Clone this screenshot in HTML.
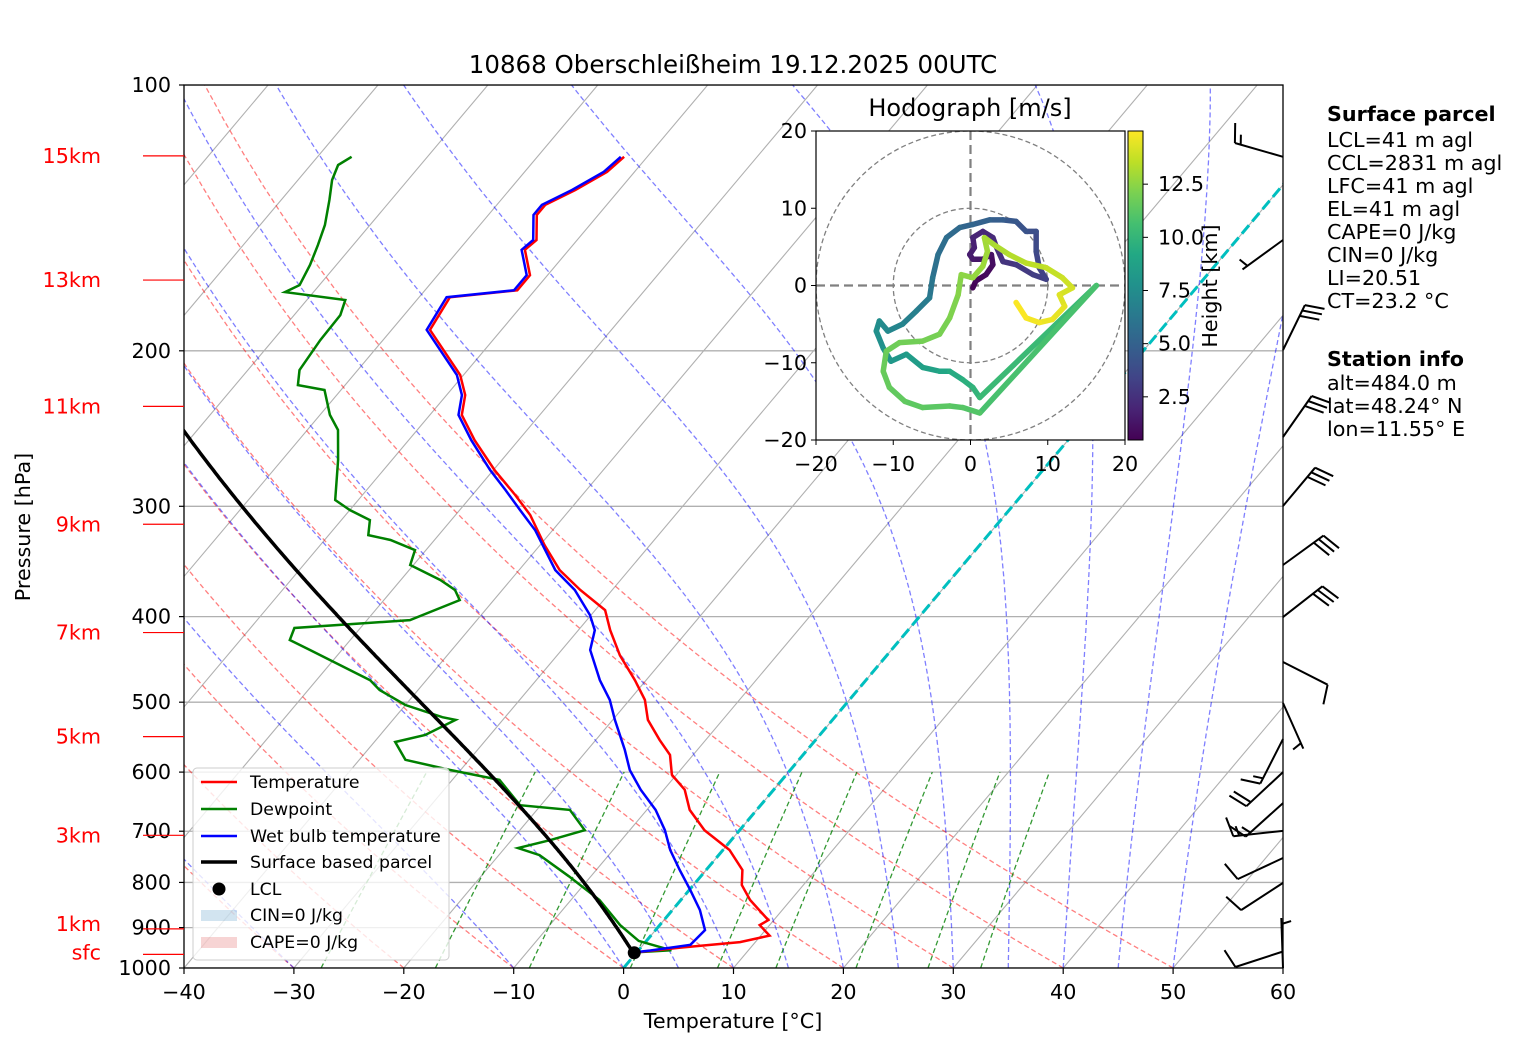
<!DOCTYPE html>
<html><head><meta charset="utf-8"><style>
body{margin:0;background:#fff}
svg{display:block;font-family:"DejaVu Sans","Liberation Sans",sans-serif}
</style></head><body>
<svg id="chart" width="1517" height="1054" viewBox="0 0 1517 1054" xmlns="http://www.w3.org/2000/svg">
<defs>
<clipPath id="plotclip"><rect x="184" y="85" width="1099" height="883"/></clipPath>
<clipPath id="hclip"><rect x="816" y="131" width="309" height="309"/></clipPath>
<linearGradient id="viridis" x1="0" y1="1" x2="0" y2="0">
<stop offset="0" stop-color="#440154"/><stop offset="0.1" stop-color="#482475"/><stop offset="0.2" stop-color="#414487"/><stop offset="0.3" stop-color="#355f8d"/><stop offset="0.4" stop-color="#2a788e"/><stop offset="0.5" stop-color="#21918c"/><stop offset="0.6" stop-color="#22a884"/><stop offset="0.7" stop-color="#44bf70"/><stop offset="0.8" stop-color="#7ad151"/><stop offset="0.9" stop-color="#bddf26"/><stop offset="1" stop-color="#fde725"/>
</linearGradient>
</defs>
<text x="733" y="73" font-size="24.5" text-anchor="middle">10868 Oberschleißheim 19.12.2025 00UTC</text>
<g id="bg" clip-path="url(#plotclip)"></g>
<g id="series" clip-path="url(#plotclip)"></g>
<rect x="184" y="85" width="1099" height="883" fill="none" stroke="#000" stroke-width="1.3"/>
<g id="axes"></g>
<g id="barbs"></g>
<g font-size="17.3">
<rect x="193" y="768" width="256" height="192" rx="4" fill="#fff" fill-opacity="0.8" stroke="#ccc"/>
<line x1="201" y1="782" x2="237" y2="782" stroke="red" stroke-width="2.5"/>
<text x="250" y="788">Temperature</text>
<line x1="201" y1="809" x2="237" y2="809" stroke="green" stroke-width="2.5"/>
<text x="250" y="815">Dewpoint</text>
<line x1="201" y1="836" x2="237" y2="836" stroke="blue" stroke-width="2.5"/>
<text x="250" y="842">Wet bulb temperature</text>
<line x1="201" y1="862" x2="237" y2="862" stroke="#000" stroke-width="3.5"/>
<text x="250" y="868">Surface based parcel</text>
<circle cx="219" cy="889" r="6.5" fill="#000"/>
<text x="250" y="895">LCL</text>
<rect x="201" y="910" width="36" height="11" fill="#1f77b4" fill-opacity="0.2"/>
<text x="250" y="921">CIN=0 J/kg</text>
<rect x="201" y="937" width="36" height="11" fill="#d62728" fill-opacity="0.2"/>
<text x="250" y="948">CAPE=0 J/kg</text>
</g>
<g id="hodo"></g>
<g font-size="20.7">
<text x="1327" y="121" font-weight="bold">Surface parcel</text>
<text x="1327" y="147">LCL=41 m agl</text>
<text x="1327" y="170">CCL=2831 m agl</text>
<text x="1327" y="193">LFC=41 m agl</text>
<text x="1327" y="216">EL=41 m agl</text>
<text x="1327" y="239">CAPE=0 J/kg</text>
<text x="1327" y="262">CIN=0 J/kg</text>
<text x="1327" y="285">LI=20.51</text>
<text x="1327" y="308">CT=23.2 °C</text>
<text x="1327" y="366" font-weight="bold">Station info</text>
<text x="1327" y="390">alt=484.0 m</text>
<text x="1327" y="413">lat=48.24° N</text>
<text x="1327" y="436">lon=11.55° E</text>
</g>
</svg>
<script>
// ---- data ----
const redP=[120.6,125.4,131.5,136.7,140.3,149.8,153.7,164.2,170.8,173.9,189.4,213,224.5,236.4,252.5,272.9,291.3,306.9,331.9,354.3,373.2,393.3,414.4,442.4,472.3,497,523.6,551.6,573.7,604.3,628.2,662.2,698.1,735.2,774.5,805.4,837.6,882.6,894.2,918.9,934.6,948.1,961];
const redT=[-62.1,-62.5,-64.0,-65.6,-65.6,-63.7,-64.0,-61.6,-61.6,-67.2,-66.5,-60.3,-58.3,-57.1,-54.0,-49.9,-46.1,-43.2,-39.6,-36.3,-32.9,-29.1,-27.1,-24.3,-21.0,-18.6,-16.8,-14.2,-12.1,-10.4,-8.1,-6.1,-3.2,0.6,3.3,4.4,6.3,9.5,9.1,10.8,8.6,3.6,-0.3];
const wbP=[120.6,125.4,131.5,136.7,140.3,149.8,153.7,164.2,170.8,173.9,189.4,213,224.5,236.4,252.5,272.9,287.4,303,319.2,354.3,373.2,398.4,414.4,436.4,472.3,497,523.6,566.3,596.9,628.2,662.2,698.1,735.2,774.5,816.1,859.6,905.8,941.3,955.4,961];
const wbT=[-62.4,-62.8,-64.3,-65.9,-65.9,-64,-64.3,-61.9,-61.9,-67.5,-66.8,-60.6,-58.6,-57.4,-54.3,-50.3,-47.4,-44.5,-41.6,-36.7,-33.4,-30.1,-28.5,-27.4,-24.2,-21.8,-19.8,-16.6,-14.6,-12.1,-9.2,-6.8,-4.8,-2.4,0.1,2.5,4.5,4.3,1.1,-0.5];
const tdP=[120.6,123.2,128.1,135,144.1,151.8,159.9,168.5,171.6,175.2,182.2,194.5,210.3,218.7,221.5,236.4,245.9,265.9,295.1,302.9,311,323.4,327.6,336.3,349.6,363.6,373.2,383.1,403.6,412.1,425.2,436.4,453.9,472.3,484.4,503.7,520,523.6,544.7,554.7,581.1,596.5,612.3,654,662.2,698.1,716.6,731.4,745,787.3,837.6,894.2,931.8,955,961];
const tdT=[-86.9,-87.5,-86.9,-85.6,-84.1,-83.2,-82.4,-81.8,-82.6,-76.5,-75.8,-75.7,-75.3,-74.3,-71.5,-69.1,-67.2,-64.9,-62.1,-60,-57.4,-56.4,-54,-51,-50.3,-46.4,-44.3,-43.1,-46.1,-56,-55.5,-52.9,-49,-45.1,-43.5,-40,-35.7,-34.3,-35.9,-38.1,-35.8,-31,-25.7,-21.9,-17,-14.1,-16.5,-18.8,-16.3,-12,-7.4,-3.6,-0.7,3.0,-0.6];
const parcelStartP=961, parcelStartT=-0.3;
const xTicks=[-40,-30,-20,-10,0,10,20,30,40,50,60];
const pTicks=[100,200,300,400,500,600,700,800,900,1000];
const heightLabels=["15km","13km","11km","9km","7km","5km","3km","1km","sfc"];
const heightLabelP=[120.3,166.3,231.2,314.4,417,547,707.5,903,965];
const dryT0=[-40,-30,-20,-10,0,10,20,30,40,50];
const moistT0=[-30,-10,0,5,10,15,20,25,30,35,40,45,50];
const mixW=[0.0004,0.001,0.002,0.004,0.007,0.01,0.016,0.024,0.032];
const barbP=[120.6,149.8,199.6,250.4,299.8,349.6,400.5,450.3,501,550.5,600,650.5,699.5,750.6,801,958,1000];
const barbDir=[286,234,26,35,40,54,52,117,156,207,227,228,264,245,237,252,358];
const barbSpd=[15,5,30,30,30,30,30,10,5,15,20,15,15,10,10,10,5];
const hodoU=[0.3,0.7,2.0,2.9,2.7,1.6,0.3,-0.1,0.5,0.3,1.6,2.9,3.3,4.2,5.9, 8.1,9.8,8.9,8.5,8.5,7.2,5.9,4.2,2.5, 0.3,-1.4,-3.1,-4.2,-4.9,-5.3,-7.0,-8.8,-10.7,-11.8,-12.2,-11.3,-10.3, -8.3,-6.2,-4.0,-2.7,-1.0,0.3,1.2, 16.3,1.2, -1.0,-2.7,-6.2,-8.5,-10.5,-11.3,-10.9,-9.2,-6.2,-4.0,-2.7,-1.6,-1.2, 0.3,1.6,2.2,1.8, 3.3,5.0,7.2,9.8,11.9,13.2, 11.5,12.2,10.6,8.9,7.2,5.9];
const hodoV=[-0.3,0.6,1.4,2.7,4.0,3.4,3.4,4.0,4.9,6.2,7.0,6.2,5.1,3.1,2.7, 1.4,0.8,2.3,4.4,7.0,7.0,8.3,8.5,8.5, 7.9,7.5,6.2,4.0,1.0,-1.6,-3.3,-5.0,-5.9,-4.6,-5.9,-8.1,-9.8, -8.9,-10.6,-11.1,-11.1,-12.2,-13.2,-14.5, 0,-16.5, -15.8,-15.6,-15.8,-15.0,-13.2,-11.1,-8.5,-7.4,-7.2,-6.3,-4.2,-1.2,1.4, 1.0,2.5,4.4,6.2, 5.1,4.0,2.9,2.3,1.0,-0.3, -1.2,-2.7,-4.4,-4.8,-4.2,-2.2];
const hodoH=[0.5,0.65,0.8,0.95,1.1,1.25,1.4,1.55,1.7,1.85,2.0,2.15,2.3,2.5,2.8, 3.0,3.2,3.4,3.6,3.8,4.1,4.3,4.6,4.9, 5.1,5.3,5.6,5.8,6.0,6.3,6.6,6.9,7.2,7.4,7.6,7.8,8.0, 8.3,8.6,8.9,9.2,9.5,9.8,10.0, 10.5,11.0, 11.1,11.2,11.3,11.4,11.5,11.6,11.7,11.8,11.9,12.0,12.1,12.3,12.4, 12.6,12.75,12.9,13.0, 13.15,13.3,13.45,13.6,13.8,14.0, 14.2,14.4,14.55,14.7,14.85,15.0];
const cbTicks=[2.5,5.0,7.5,10.0,12.5];
const hodoTicks=[-20,-10,0,10,20];

// ---- axis functions ----
const NS="http://www.w3.org/2000/svg";
function yP(p){return 85+Math.log10(p/100)*883;}
function xT(T,p){return 184+(T+40)*10.99+(968-yP(p))*0.842;}
function mk(tag,attrs,parent){const e=document.createElementNS(NS,tag);for(const k in attrs)e.setAttribute(k,attrs[k]);parent.appendChild(e);return e;}
function pathFrom(ps,ts){return ps.map((p,i)=>(i?'L':'M')+xT(ts[i],p).toFixed(1)+','+yP(p).toFixed(1)).join('');}
const bg=document.getElementById('bg'), series=document.getElementById('series'), axes=document.getElementById('axes');
const Rd=287.04,Cpd=1005.7,Lv=2.501e6,eps=0.622;
function es(Tc){return 6.112*Math.exp(17.67*Tc/(Tc+243.5));}
function dTdp(p,T){const e=es(T-273.15);const rs=eps*e/(p-e);return (Rd*T+Lv*rs)/(Cpd+Lv*Lv*rs*eps/(Rd*T*T))/p;}
function moist(p0,T0){let p=p0,T=T0+273.15;const P=[p],TT=[T0];while(p>100){const dp=-Math.min(2,p-100);const k1=dTdp(p,T);const k2=dTdp(p+dp/2,T+k1*dp/2);T+=k2*dp;p+=dp;P.push(p);TT.push(T-273.15);}return [P,TT];}

pTicks.forEach(p=>{
  const l=mk('line',{x1:184,x2:1283,y1:yP(p),y2:yP(p),stroke:'#b0b0b0','stroke-width':1.3},bg);
  
  
});
for(let T=-160;T<=60;T+=10){
  const l=mk('line',{x1:xT(T,1000),y1:yP(1000),x2:xT(T,100),y2:yP(100),stroke:'#b0b0b0','stroke-width':1.1},bg);
  
  
}
dryT0.forEach(t0=>{
  const P=[],T=[];for(let p=1000;p>=100;p-=10){P.push(p);T.push((t0+273.15)*Math.pow(p/1000,0.2857)-273.15);}
  const e=mk('path',{d:pathFrom(P,T),fill:'none',stroke:'#ff0000','stroke-opacity':0.5,'stroke-width':1.3,'stroke-dasharray':'5,3'},bg);
  
  
});
moistT0.forEach(t0=>{
  const r=moist(1000,t0);
  const e=mk('path',{d:pathFrom(r[0],r[1]),fill:'none',stroke:'#0000ff','stroke-opacity':0.5,'stroke-width':1.3,'stroke-dasharray':'5,3'},bg);
  
  
});
mixW.forEach(w=>{
  const P=[],T=[];for(let p=1000;p>=600;p-=10){const e=w*p/(eps+w);const l=Math.log(e/6.112);P.push(p);T.push(243.5*l/(17.67-l));}
  const e=mk('path',{d:pathFrom(P,T),fill:'none',stroke:'#008000','stroke-opacity':0.8,'stroke-width':1.3,'stroke-dasharray':'5,3'},bg);
  
  
});
{const e=mk('line',{x1:xT(0,1000),y1:yP(1000),x2:xT(0,100),y2:yP(100),stroke:'#00bfbf','stroke-width':3,'stroke-dasharray':'11,5'},bg);

}

{const e=mk('path',{d:pathFrom(tdP,tdT),fill:'none',stroke:'green','stroke-width':2.5},series);

}
{const e=mk('path',{d:pathFrom(redP,redT),fill:'none',stroke:'red','stroke-width':2.5},series);

}
{const e=mk('path',{d:pathFrom(wbP,wbT),fill:'none',stroke:'blue','stroke-width':2.5},series);

}
{const r=moist(parcelStartP,parcelStartT);
const e=mk('path',{d:pathFrom(r[0],r[1]),fill:'none',stroke:'#000','stroke-width':3.5},series);


const c=mk('circle',{cx:xT(parcelStartT+0.1,parcelStartP),cy:yP(parcelStartP),r:6.5,fill:'#000'},series);

}

pTicks.forEach(p=>{
  mk('line',{x1:179,x2:184,y1:yP(p),y2:yP(p),stroke:'#000','stroke-width':1.2},axes);
  const t=mk('text',{x:171,y:yP(p)+7,'font-size':20.7,'text-anchor':'end'},axes);t.textContent=p;
  
  
});
xTicks.forEach(T=>{
  const x=184+(T+40)*10.99;
  mk('line',{x1:x,x2:x,y1:968,y2:974,stroke:'#000','stroke-width':1.2},axes);
  const t=mk('text',{x:x,y:999,'font-size':20.7,'text-anchor':'middle'},axes);t.textContent=(T<0?'\u2212'+(-T):T);
  
  
});
heightLabels.forEach((s,i)=>{
  const y=yP(heightLabelP[i]);
  mk('line',{x1:143,x2:184,y1:y,y2:y,stroke:'red','stroke-width':1.2},axes);
  const t=mk('text',{x:101,y:y+(i===7?2:(i===8?5:7)),'font-size':20.7,fill:'red','text-anchor':'end'},axes);t.textContent=s;
  
  
});
{const t=mk('text',{x:733,y:1028,'font-size':20.7,'text-anchor':'middle'},axes);t.textContent='Temperature [°C]';


const t2=mk('text',{x:0,y:0,'font-size':20.7,'text-anchor':'middle',transform:'translate(30,527) rotate(-90)'},axes);t2.textContent='Pressure [hPa]';

}

const barbs=document.getElementById('barbs');
barbP.forEach((p,i)=>{
  const bx=1283,by=yP(p),d=barbDir[i]*Math.PI/180,L=50;
  const ux=Math.sin(d),uy=-Math.cos(d);
  const tx=bx+ux*L,ty=by+uy*L;
  const th=75*Math.PI/180;
  const rx=ux*Math.cos(th)-uy*Math.sin(th),ry=ux*Math.sin(th)+uy*Math.cos(th);
  const s=barbSpd[i],full=Math.floor(s/10),half=(s%10)>=5?1:0;
  let dpath='M'+bx+','+by.toFixed(1)+'L'+tx.toFixed(1)+','+ty.toFixed(1);
  let off=0;
  if(full===0&&half) off=6;
  for(let k=0;k<full;k++){const px=tx-ux*off,py=ty-uy*off;dpath+='M'+px.toFixed(1)+','+py.toFixed(1)+'l'+(rx*20).toFixed(1)+','+(ry*20).toFixed(1);off+=6;}
  if(half){const px=tx-ux*off,py=ty-uy*off;dpath+='M'+px.toFixed(1)+','+py.toFixed(1)+'l'+(rx*10).toFixed(1)+','+(ry*10).toFixed(1);}
  const e=mk('path',{d:dpath,fill:'none',stroke:'#000','stroke-width':2},barbs);
  
  
});

const hodo=document.getElementById('hodo');
const hx0=816,hy0=131,hw=309,hh=309;
function hX(u){return hx0+(u+20)/40*hw;}
function hY(v){return hy0+(20-v)/40*hh;}
{const r=mk('rect',{x:hx0,y:hy0,width:hw,height:hh,fill:'#fff',stroke:'none'},hodo);

}
const hg=mk('g',{'clip-path':'url(#hclip)'},hodo);
[10,20].forEach(r=>{const c=mk('circle',{cx:hX(0),cy:hY(0),r:r/40*hw,fill:'none',stroke:'#808080','stroke-width':1.3,'stroke-dasharray':'5,3'},hg);

});
mk('line',{x1:hX(0),x2:hX(0),y1:hy0,y2:hy0+hh,stroke:'#808080','stroke-width':2.2,'stroke-dasharray':'9,5'},hg);
mk('line',{x1:hx0,x2:hx0+hw,y1:hY(0),y2:hY(0),stroke:'#808080','stroke-width':2.2,'stroke-dasharray':'9,5'},hg);
const stops=[[0,'#440154'],[0.1,'#482475'],[0.2,'#414487'],[0.3,'#355f8d'],[0.4,'#2a788e'],[0.5,'#21918c'],[0.6,'#22a884'],[0.7,'#44bf70'],[0.8,'#7ad151'],[0.9,'#bddf26'],[1,'#fde725']];
function hex(h){return [1,3,5].map(i=>parseInt(h.substr(i,2),16));}
function vir(t){t=Math.max(0,Math.min(1,t));for(let i=1;i<stops.length;i++){if(t<=stops[i][0]){const a=stops[i-1],b=stops[i];const f=(t-a[0])/(b[0]-a[0]);const ca=hex(a[1]),cb=hex(b[1]);return 'rgb('+ca.map((c,k)=>Math.round(c+(cb[k]-c)*f)).join(',')+')';}}return stops[10][1];}
const hMin=0.47,hMax=15;
for(let i=1;i<hodoU.length;i++){
  const hm=(hodoH[i]+hodoH[i-1])/2;
  const e=mk('line',{x1:hX(hodoU[i-1]),y1:hY(hodoV[i-1]),x2:hX(hodoU[i]),y2:hY(hodoV[i]),stroke:vir((hm-hMin)/(hMax-hMin)),'stroke-width':5.5,'stroke-linecap':'round'},hg);
  
  
}
mk('rect',{x:hx0,y:hy0,width:hw,height:hh,fill:'none',stroke:'#000','stroke-width':1.2},hodo);
hodoTicks.forEach(v=>{
  const lab=(v<0?'\u2212'+(-v):''+v);
  mk('line',{x1:hX(v),x2:hX(v),y1:hy0+hh,y2:hy0+hh+5,stroke:'#000'},hodo);
  const t=mk('text',{x:hX(v),y:471,'font-size':20.7,'text-anchor':'middle'},hodo);t.textContent=lab;
  
  
  mk('line',{x1:hx0-5,x2:hx0,y1:hY(v),y2:hY(v),stroke:'#000'},hodo);
  const t2=mk('text',{x:hx0-9,y:hY(v)+7,'font-size':20.7,'text-anchor':'end'},hodo);t2.textContent=lab;
  
  
});
{const t=mk('text',{x:970,y:116,'font-size':24,'text-anchor':'middle'},hodo);t.textContent='Hodograph [m/s]';

}
{const r=mk('rect',{x:1128,y:131,width:15,height:309,fill:'url(#viridis)',stroke:'#000','stroke-width':1},hodo);

}
cbTicks.forEach(v=>{
  const y=440-(v-hMin)/(hMax-hMin)*309;
  mk('line',{x1:1143,x2:1148,y1:y,y2:y,stroke:'#000'},hodo);
  const t=mk('text',{x:1158,y:y+7,'font-size':20.7},hodo);t.textContent=v.toFixed(1);
  
  
});
{const t=mk('text',{x:0,y:0,'font-size':20.7,'text-anchor':'middle',transform:'translate(1217,286) rotate(-90)'},hodo);t.textContent='Height [km]';

}
</script>
</body></html>
